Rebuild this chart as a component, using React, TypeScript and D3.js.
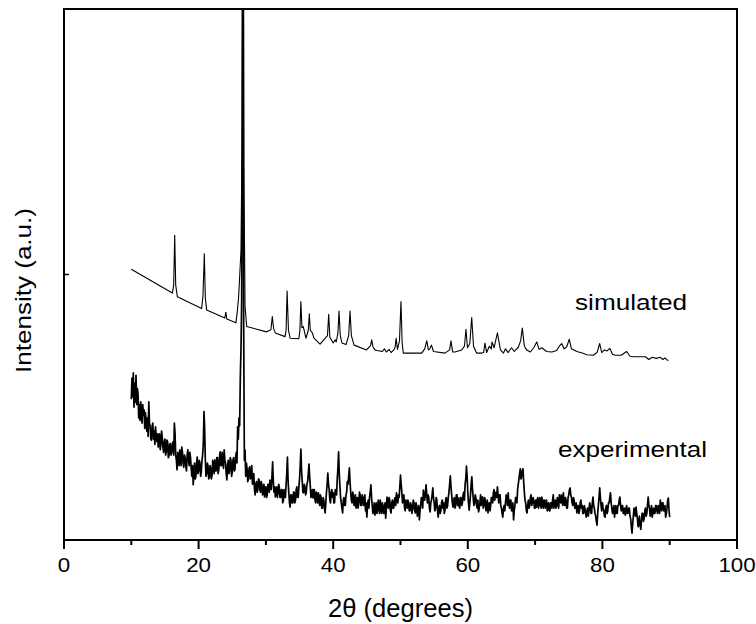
import React from 'react';
import * as d3 from 'd3';

// ---------- data ----------
const xTickValues = [0, 10, 20, 30, 40, 50, 60, 70, 80, 90, 100];
const xTickLabels = ['0', '', '20', '', '40', '', '60', '', '80', '', '100'];
const yTickValues = [50];

// simulated pattern (2θ, intensity a.u.)
const simX = [10.0, 16.1, 16.3, 16.45, 16.6, 16.85, 20.45, 20.65, 20.85, 21.0, 21.2, 23.9, 24.05, 24.2, 25.55, 25.75, 25.95, 26.3, 26.45, 26.6, 26.72, 26.9, 27.15,
  30.1, 30.75, 30.95, 31.15, 31.4, 32.85, 33.0, 33.15, 33.35, 33.6, 34.9, 35.05, 35.2, 35.35, 35.55, 35.95, 36.3, 36.45, 36.6, 36.9, 37.15, 38.05,
  39.15, 39.33, 39.5, 40.0, 40.3, 40.45, 40.7, 40.86, 41.05, 41.3, 41.9, 42.3, 42.5, 42.7, 43.1, 44.95, 45.55, 45.72, 45.9, 46.2, 46.5, 47.3, 47.6, 47.9,
  48.3, 48.6, 49.0, 49.2, 49.35, 49.55, 49.85, 50.07, 50.25, 50.42, 53.15, 53.6, 53.9, 54.15, 54.35, 54.6, 54.9, 56.6, 57.3, 57.5, 57.75, 58.1, 59.1,
  59.5, 59.73, 59.95, 60.3, 60.58, 60.85, 61.3, 62.1, 62.35, 62.55, 62.8, 63.2, 63.5, 63.6, 63.9, 64.4, 64.85, 65.3, 65.6, 66.0, 66.5, 66.9, 67.5,
  67.85, 68.1, 68.4, 68.75, 69.3, 69.8, 70.24, 70.6, 71.0, 71.7, 72.5, 73.2, 73.6, 73.95, 74.3, 74.7, 75.08, 75.4, 76.2, 77.0, 77.7, 78.65, 79.2,
  79.6, 79.9, 80.3, 80.7, 81.1, 81.5, 81.9, 82.8, 83.6, 84.1, 84.6, 85.5, 86.4, 86.9, 87.4, 88.0, 88.6, 89.0, 89.3, 89.6, 89.8];
const simY = [51.0, 46.5, 48.0, 57.4, 48.0, 45.8, 43.6, 46.0, 53.9, 45.5, 43.3, 41.8, 42.9, 41.6, 40.9, 43.0, 45.8, 54.6, 75, 150, 70, 44, 40.2,
  39.2, 39.6, 42.1, 39.8, 39.0, 38.3, 39.5, 46.9, 39.5, 38.0, 37.9, 39.5, 44.9, 40.0, 40.2, 38.0, 39.5, 42.6, 39.5, 39.0, 38.0, 36.9,
  38.5, 42.5, 38.2, 37.1, 37.7, 37.3, 39.0, 43.1, 38.5, 37.1, 36.8, 38.5, 43.1, 38.5, 36.7, 35.8, 36.6, 37.7, 36.4, 35.8, 35.7, 35.5, 36.0, 35.4,
  35.9, 35.3, 35.8, 36.3, 38.0, 35.9, 37.5, 44.9, 37.0, 35.2, 35.2, 36.0, 37.5, 35.8, 36.0, 36.7, 35.5, 35.2, 35.8, 37.5, 35.4, 35.4, 35.8,
  36.5, 39.7, 36.2, 37.0, 41.9, 36.5, 35.2, 35.2, 35.3, 37.1, 35.3, 36.5, 36.0, 37.3, 36.2, 39.0, 35.8, 35.2, 36.0, 35.3, 36.2, 35.5, 36.3,
  37.5, 39.9, 36.5, 35.8, 35.4, 36.2, 37.3, 35.9, 36.2, 35.5, 35.4, 35.7, 36.5, 37.0, 36.0, 36.4, 37.8, 36.0, 35.5, 35.2, 34.9, 34.8, 35.3,
  37.0, 35.3, 35.8, 35.6, 36.1, 35.0, 34.8, 34.8, 35.5, 34.6, 34.5, 34.5, 34.5, 34.0, 34.4, 34.2, 34.4, 34.0, 34.3, 33.9, 33.8];

// experimental pattern: scan from 10° to 90°, 0.1° step (one row per degree)
const expStart = 10;
const expStep = 0.1;
const expY = [
  26.5, 30.5, 27.0, 31.5, 25.0, 29.5, 26.0, 31.0, 25.5, 28.5,
  27.5, 23.0, 25.5, 22.5, 26.0, 24.0, 22.0, 25.5, 23.5, 24.5,
  21.0, 24.0, 22.5, 20.5, 23.0, 19.5, 26.0, 22.0, 21.5, 19.0,
  18.8, 21.5, 22.0, 19.0, 20.5, 18.0, 21.3, 19.5, 18.5, 20.0,
  17.5, 19.5, 20.0, 17.0, 18.0, 20.5, 19.4, 17.5, 16.5, 18.5,
  19.0, 16.0, 16.6, 18.8, 18.5, 15.5, 15.8, 18.0, 18.2, 16.0,
  16.5, 18.0, 18.5, 16.0, 22.0, 20.0, 16.0, 15.0, 13.2, 16.5,
  16.0, 14.0, 17.0, 15.5, 14.0, 17.5, 16.5, 14.5, 13.7, 16.0,
  15.5, 14.0, 13.0, 16.0, 17.0, 15.0, 14.0, 16.5, 15.5, 13.5,
  12.0, 14.0, 10.4, 12.5, 14.5, 11.5, 12.0, 14.5, 15.6, 12.5,
  13.0, 15.0, 14.5, 12.0, 12.8, 15.0, 16.0, 18.0, 24.2, 21.0,
  15.0, 12.0, 12.5, 14.5, 14.0, 11.5, 11.8, 14.0, 13.5, 11.5,
  12.2, 15.0, 14.0, 12.5, 15.1, 13.0, 13.0, 15.5, 15.5, 12.5,
  13.2, 15.5, 16.6, 14.0, 14.0, 16.5, 15.0, 13.5, 17.0, 15.0,
  14.5, 12.5, 11.3, 14.0, 15.0, 12.5, 13.0, 15.5, 15.1, 12.0,
  12.8, 15.0, 15.5, 13.0, 13.2, 15.5, 16.5, 14.5, 21.3, 19.0,
  23.0, 21.5, 30.7, 36.0, 45.0, 80.0, 150, 40.0, 15.0, 17.0,
  12.0, 14.5, 13.5, 11.0, 11.5, 13.5, 13.8, 11.5, 12.0, 14.0,
  10.5, 12.0, 12.5, 9.5, 8.5, 10.5, 11.0, 9.0, 9.5, 11.5,
  11.3, 9.5, 9.0, 11.0, 10.5, 8.5, 8.8, 10.5, 8.1, 10.0,
  10.0, 8.0, 8.5, 10.5, 10.5, 9.0, 11.3, 10.0, 9.5, 12.0,
  14.7, 11.0, 9.0, 10.0, 8.1, 9.5, 10.0, 8.0, 8.8, 10.5,
  9.8, 8.0, 8.0, 9.5, 9.5, 7.0, 7.5, 9.5, 9.0, 8.0,
  10.5, 12.5, 15.6, 11.0, 9.0, 7.0, 6.2, 8.5, 8.5, 7.0,
  7.0, 9.0, 9.0, 7.0, 7.5, 9.5, 10.0, 8.0, 8.0, 10.0,
  11.5, 14.0, 17.1, 13.0, 11.0, 9.0, 8.9, 10.5, 10.0, 8.5,
  9.0, 10.5, 11.0, 12.5, 14.3, 12.0, 10.0, 8.0, 8.5, 9.5,
  7.9, 9.5, 9.5, 7.5, 7.0, 9.0, 8.5, 7.0, 8.9, 7.5,
  6.5, 8.5, 8.0, 6.0, 6.0, 8.0, 7.5, 6.0, 5.1, 7.0,
  9.0, 10.5, 12.6, 10.5, 9.5, 7.5, 7.0, 9.0, 9.5, 8.0,
  8.9, 7.0, 7.0, 9.5, 9.0, 8.5, 11.5, 13.5, 16.6, 12.5,
  10.0, 8.0, 7.0, 6.0, 5.1, 7.5, 8.0, 6.5, 6.5, 8.5,
  9.0, 11.0, 10.5, 12.0, 13.6, 11.0, 9.0, 7.5, 7.0, 9.0,
  8.5, 6.5, 6.5, 8.5, 6.0, 7.5, 8.0, 6.0, 7.0, 9.0,
  8.5, 6.5, 6.5, 8.5, 8.1, 6.5, 7.0, 8.5, 5.5, 7.0,
  4.3, 6.5, 7.5, 6.0, 8.0, 9.0, 10.4, 8.0, 6.5, 5.0,
  5.5, 7.0, 4.7, 6.0, 7.0, 5.0, 5.5, 7.5, 6.5, 5.0,
  7.5, 6.0, 5.0, 7.0, 6.5, 5.0, 5.5, 7.0, 4.1, 6.0,
  8.1, 6.5, 6.0, 8.0, 7.5, 5.5, 5.1, 7.0, 7.5, 6.0,
  6.0, 7.5, 8.0, 6.5, 8.9, 7.5, 7.0, 8.5, 8.0, 10.0,
  12.2, 10.5, 9.0, 7.0, 7.5, 8.5, 6.0, 5.5, 7.5, 6.5,
  6.0, 7.5, 7.0, 5.5, 5.5, 7.0, 6.5, 5.0, 6.0, 7.5,
  7.0, 5.5, 5.1, 7.0, 6.5, 4.5, 5.0, 6.5, 3.8, 5.5,
  6.5, 8.0, 7.5, 6.0, 9.4, 8.0, 7.5, 9.0, 10.4, 8.5,
  7.0, 8.5, 8.0, 6.0, 5.3, 7.0, 7.5, 8.5, 9.8, 8.0,
  7.0, 5.5, 6.0, 8.0, 7.5, 5.5, 4.3, 6.0, 6.5, 5.0,
  5.5, 7.0, 7.5, 6.0, 7.0, 5.0, 5.5, 7.5, 8.0, 6.0,
  6.5, 8.0, 9.0, 10.5, 12.1, 10.0, 8.5, 7.0, 6.2, 7.5,
  8.0, 6.0, 6.5, 8.5, 8.5, 6.5, 7.9, 6.5, 6.0, 8.0,
  8.0, 6.5, 7.0, 8.5, 9.0, 7.5, 10.5, 11.5, 13.9, 12.0,
  9.0, 7.0, 5.6, 7.0, 8.5, 10.5, 11.9, 9.5, 8.0, 6.5,
  7.0, 8.5, 8.0, 6.5, 6.0, 7.5, 5.3, 6.0, 7.0, 8.5,
  6.5, 8.0, 8.1, 6.0, 6.5, 8.0, 7.5, 5.5, 6.0, 7.5,
  5.1, 6.5, 7.0, 5.5, 6.5, 8.0, 8.0, 7.0, 8.9, 9.5,
  7.5, 8.5, 9.0, 8.0, 10.0, 8.5, 7.0, 8.5, 8.5, 6.5,
  6.0, 5.0, 4.3, 6.0, 6.5, 5.5, 7.0, 8.5, 8.0, 6.5,
  8.9, 7.0, 6.0, 7.5, 7.5, 5.5, 5.5, 7.0, 3.8, 5.5,
  6.5, 8.0, 8.0, 7.0, 9.5, 10.5, 11.5, 12.5, 13.4, 11.5,
  12.0, 13.0, 13.4, 11.0, 9.0, 7.5, 7.0, 5.5, 5.1, 6.5,
  7.5, 6.0, 6.5, 8.0, 8.5, 6.5, 7.0, 8.0, 7.5, 6.0,
  6.0, 7.5, 6.2, 7.5, 8.0, 6.0, 6.5, 8.0, 7.0, 6.0,
  8.1, 7.0, 6.0, 7.5, 7.5, 6.0, 6.6, 7.5, 5.5, 6.5,
  7.0, 5.5, 5.5, 7.0, 7.0, 6.0, 7.5, 8.5, 6.0, 7.0,
  7.5, 6.0, 6.5, 8.0, 7.0, 6.0, 8.5, 7.5, 7.0, 8.5,
  7.5, 6.5, 8.9, 7.0, 6.5, 8.0, 7.5, 6.0, 6.0, 8.0,
  8.5, 9.5, 9.8, 8.5, 8.0, 7.0, 6.5, 8.0, 7.5, 6.0,
  6.0, 7.0, 5.1, 6.0, 6.5, 5.0, 5.5, 7.0, 7.5, 6.0,
  6.5, 5.0, 5.0, 6.5, 6.0, 5.0, 4.3, 5.5, 6.0, 4.5,
  5.5, 7.0, 6.5, 5.0, 5.0, 7.0, 8.1, 6.5, 6.0, 5.0,
  4.5, 3.5, 2.8, 5.0, 6.5, 8.0, 9.8, 8.0, 6.5, 5.5,
  7.0, 6.0, 5.5, 4.5, 4.3, 6.0, 6.5, 5.0, 5.5, 7.0,
  7.0, 8.0, 8.9, 7.0, 6.0, 5.0, 5.5, 6.5, 4.3, 5.5,
  6.5, 5.0, 5.0, 6.5, 6.5, 7.5, 8.1, 6.5, 5.5, 6.5,
  6.5, 5.0, 5.0, 6.0, 4.7, 5.5, 6.5, 5.0, 5.0, 6.0,
  6.0, 4.5, 4.0, 2.5, 1.3, 3.0, 4.5, 6.0, 5.5, 4.5,
  6.2, 5.0, 4.0, 2.5, 3.0, 4.5, 2.8, 2.0, 3.5, 5.0,
  5.0, 3.5, 4.0, 5.5, 6.0, 4.5, 5.0, 6.5, 8.1, 6.5,
  6.0, 4.5, 5.5, 6.5, 4.3, 5.0, 6.0, 5.0, 5.0, 6.5,
  6.5, 5.5, 5.0, 6.5, 6.0, 5.0, 7.5, 6.5, 5.5, 7.0,
  7.0, 5.5, 5.5, 6.5, 4.3, 5.0, 6.0, 7.5, 7.9, 5.5,
  4.3,
];

const seriesLabels = ['simulated', 'experimental'];

// ---------- layout ----------
const W = 756;
const H = 624;
const left = 64;
const right = 737;
const top = 9;
const bottom = 540;
const FONT = '"Liberation Sans", Arial, Helvetica, sans-serif';

export default function App() {
  const x = d3.scaleLinear().domain([0, 100]).range([left, right]);
  const y = d3.scaleLinear().domain([0, 100]).range([bottom, top]);

  const simData: [number, number][] = simX.map((v, i) => [v, simY[i]]);
  const expData: [number, number][] = expY.map((v, i) => [expStart + i * expStep, v]);

  const line = d3
    .line<[number, number]>()
    .x((d) => x(d[0]))
    .y((d) => y(d[1]));

  return (
    <svg
      width={W}
      height={H}
      viewBox={`0 0 ${W} ${H}`}
      style={{ position: 'absolute', left: 0, top: 0, background: '#fff' }}
    >
      <defs>
        <clipPath id="plotclip">
          <rect x={left} y={top} width={right - left} height={bottom - top} />
        </clipPath>
      </defs>
      <rect x={0} y={0} width={W} height={H} fill="#fff" />

      <g clipPath="url(#plotclip)" fill="none" stroke="#000" strokeLinejoin="round">
        <path d={line(expData) || ''} strokeWidth={1.7} />
        <path d={line(simData) || ''} strokeWidth={1.1} />
      </g>

      {/* frame */}
      <rect
        x={left}
        y={top}
        width={right - left}
        height={bottom - top}
        fill="none"
        stroke="#000"
        strokeWidth={2}
      />

      {/* x ticks */}
      {xTickValues.map((t, i) => {
        const major = t % 20 === 0;
        return (
          <g key={t}>
            <line x1={x(t)} x2={x(t)} y1={bottom} y2={bottom + (major ? 9 : 5)} stroke="#000" strokeWidth={2} />
            {xTickLabels[i] && (
              <text
                x={x(t)}
                y={572}
                textAnchor="middle"
                fontFamily={FONT}
                fontSize={20}
                textLength={xTickLabels[i].length * 12.4}
                lengthAdjust="spacingAndGlyphs"
                fill="#000"
              >
                {xTickLabels[i]}
              </text>
            )}
          </g>
        );
      })}

      {/* y ticks */}
      {yTickValues.map((t) => (
        <line key={t} x1={left} x2={left + 5} y1={y(t)} y2={y(t)} stroke="#000" strokeWidth={1.5} />
      ))}

      {/* axis titles */}
      <text
        x={(left + right) / 2}
        y={617}
        textAnchor="middle"
        fontFamily={FONT}
        fontSize={25}
        textLength={145}
        lengthAdjust="spacingAndGlyphs"
        fill="#000"
      >
        2θ (degrees)
      </text>
      <text
        transform={`translate(31, 290.5) rotate(-90)`}
        textAnchor="middle"
        fontFamily={FONT}
        fontSize={22}
        textLength={165}
        lengthAdjust="spacingAndGlyphs"
        fill="#000"
      >
        Intensity (a.u.)
      </text>

      {/* series labels */}
      <text x={575} y={310} fontFamily={FONT} fontSize={22} textLength={112} lengthAdjust="spacingAndGlyphs" fill="#000">
        {seriesLabels[0]}
      </text>
      <text x={558} y={456.5} fontFamily={FONT} fontSize={22} textLength={149} lengthAdjust="spacingAndGlyphs" fill="#000">
        {seriesLabels[1]}
      </text>
    </svg>
  );
}
